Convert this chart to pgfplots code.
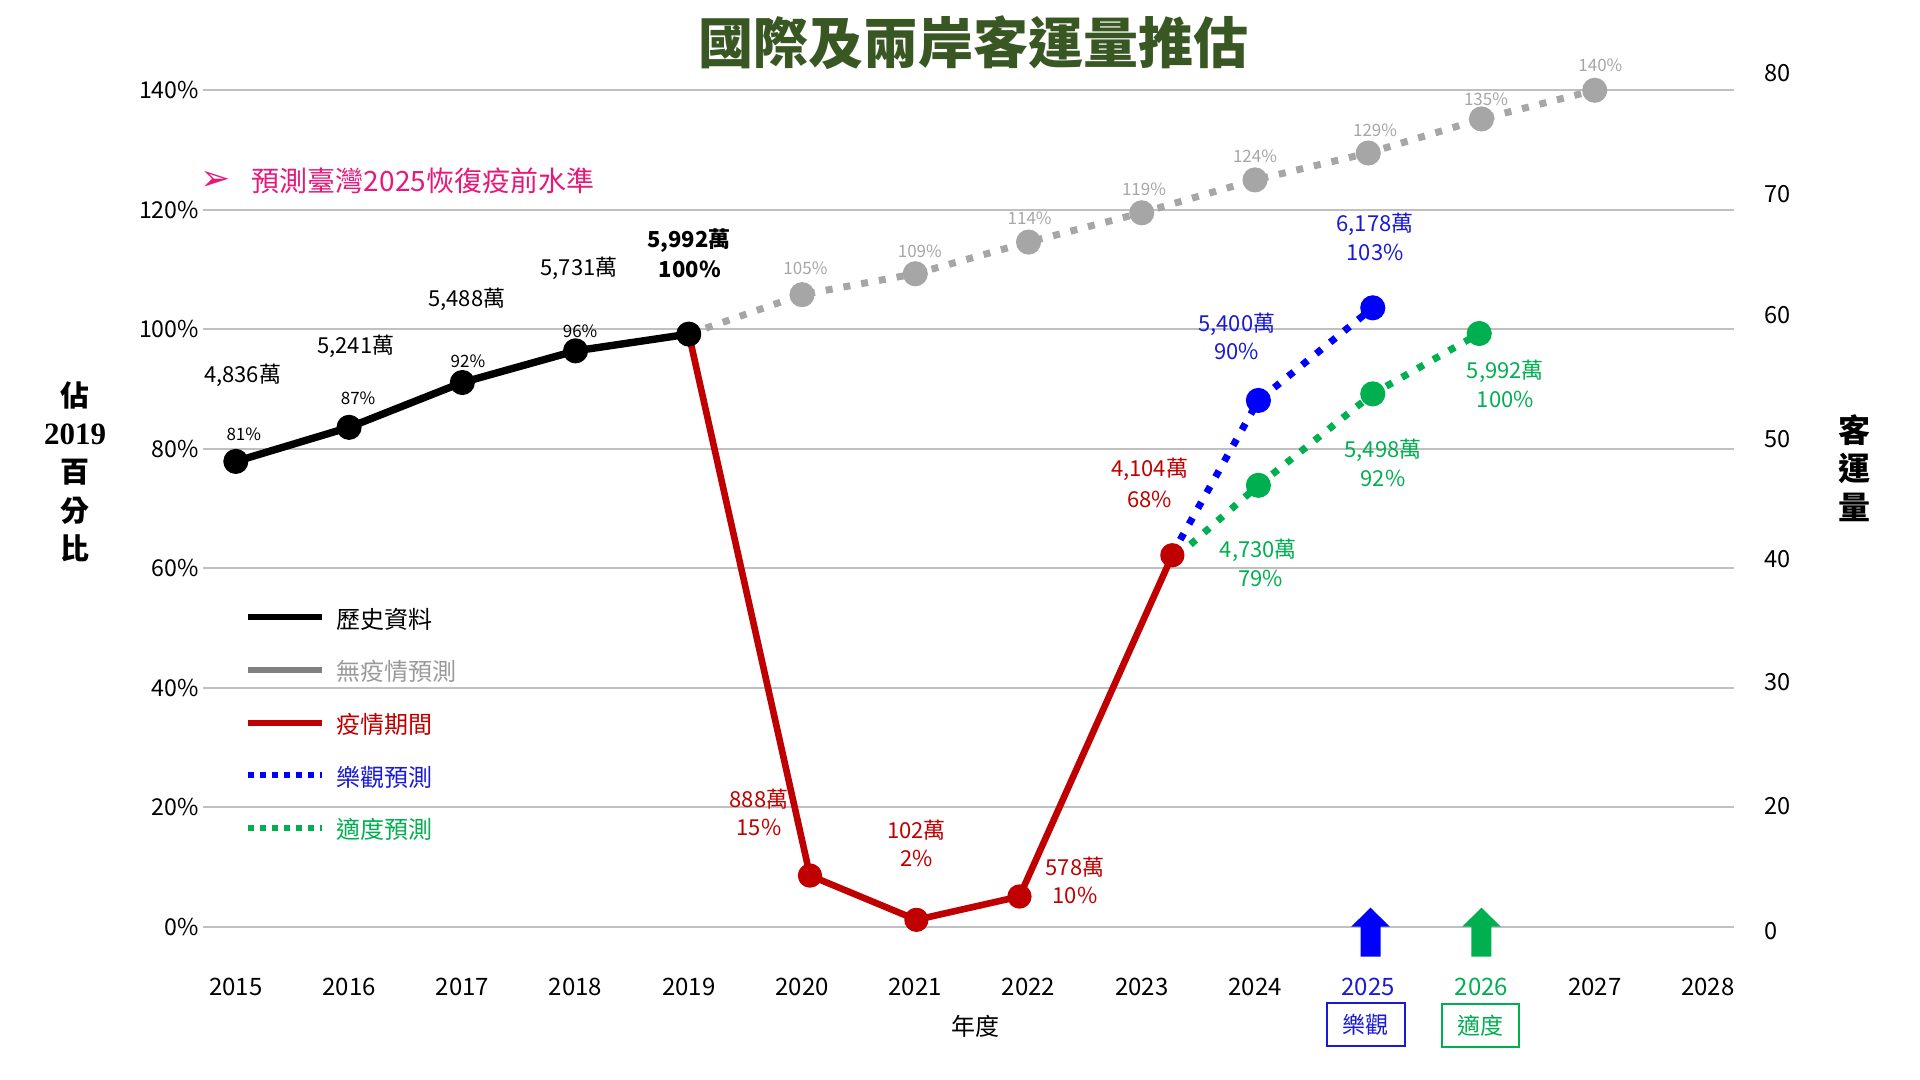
\documentclass[border=0pt]{standalone}
\usepackage{fontspec}
\setmainfont{Noto Sans CJK TC}
\newfontfamily\serifB{Liberation Serif}
\newfontfamily\dejavu{DejaVu Sans}
\usepackage{pgfplots}
\pgfplotsset{compat=1.18}
\definecolor{titlegreen}{HTML}{385723}
\definecolor{cred}{HTML}{C00000}
\definecolor{cblue}{HTML}{0000FF}
\definecolor{tblue}{HTML}{1A1AD6}
\definecolor{cgreen}{HTML}{00B050}
\definecolor{cgray}{HTML}{A6A6A6}
\definecolor{lgray}{HTML}{808080}
\definecolor{ltgray}{HTML}{9A9A9A}
\definecolor{cpink}{HTML}{E6197A}
\definecolor{gridc}{HTML}{C0C0C0}
\newcommand{\fsz}[1]{\fontsize{#1}{#1}\selectfont}
\begin{document}
\begin{tikzpicture}
\begin{axis}[
  at={(101.5pt,52.6pt)}, anchor=south west,
  scale only axis, width=765.5pt, height=457.2pt,
  xmin=2014.71, xmax=2028.23, ymin=-8, ymax=145,
  axis line style={draw=none},
  major tick length=0pt,
  ytick={0,20,40,60,80,100,120,140},
  yticklabels={0\%,20\%,40\%,60\%,80\%,100\%,120\%,140\%},
  yticklabel style={font=\fsz{11.6pt}, inner sep=0pt, anchor=east, xshift=-1.8pt},
  xtick={2015,2016,2017,2018,2019,2020,2021,2022,2023,2024,2025,2026,2027,2028},
  xticklabels={2015,2016,2017,2018,2019,2020,2021,2022,2023,2024,\textcolor{tblue}{2025},\textcolor{cgreen}{2026},2027,2028},
  xticklabel style={font=\fsz{12pt}, inner sep=0pt, anchor=north, yshift=-1.4pt},
  ymajorgrids, grid style={gridc, line width=1pt},
  clip=false,
  legend style={at={(0.0274,0.4009)}, anchor=north west, draw=none, fill=none,
    inner sep=0pt, outer sep=0pt, row sep=14.3pt, column sep=6pt,
    font=\fsz{12pt}, nodes={inner sep=0pt, text height=10pt, text depth=2pt}},
  legend cell align=left,
  legend image code/.code={\draw[#1] (0pt,1.4pt) -- (37pt,1.4pt);},
]
% no-epidemic projection
\addplot[cgray, line width=3.5pt, line cap=butt, dash pattern=on 3.5pt off 5.5pt,
  mark=*, mark size=4.5pt, mark options={solid, fill=cgray, draw=cgray},
  mark indices={2,3,4,5,6,7,8,9}, forget plot] coordinates {
  (2019,99.2) (2020,105.8) (2021,109.3) (2022,114.6) (2023,119.5)
  (2024,125.0) (2025,129.5) (2026,135.2) (2027,140.0)};
% optimistic
\addplot[cblue, line width=3.5pt, line cap=butt, dash pattern=on 3.5pt off 5.5pt,
  mark=*, mark size=4.5pt, mark options={solid, fill=cblue, draw=cblue},
  mark indices={2,3}, forget plot] coordinates {
  (2023.34,64.8) (2024.03,88.1) (2025.04,103.6)};
% moderate
\addplot[cgreen, line width=3.5pt, line cap=butt, dash pattern=on 3.5pt off 5.5pt,
  mark=*, mark size=4.5pt, mark options={solid, fill=cgreen, draw=cgreen},
  mark indices={2,3,4}, forget plot] coordinates {
  (2023.43,64.0) (2024.03,73.9) (2025.04,89.2) (2025.98,99.3)};
% epidemic
\addplot[cred, line width=3.3pt, line join=round,
  mark=*, mark size=4.4pt, mark options={solid, fill=cred, draw=cred},
  mark indices={2,3,4,5}, forget plot] coordinates {
  (2019,99.2) (2020.07,8.6) (2021.01,1.2) (2021.92,5.1) (2023.27,62.2)};
% history
\addplot[black, line width=3.7pt, line join=round,
  mark=*, mark size=4.4pt, mark options={solid, fill=black},
  forget plot] coordinates {
  (2015,77.9) (2016,83.6) (2017,91.1) (2018,96.4) (2019,99.2)};

\addlegendimage{black, line width=3pt}
\addlegendentry{歷史資料}
\addlegendimage{lgray, line width=3pt}
\addlegendentry{\textcolor{ltgray}{無疫情預測}}
\addlegendimage{cred, line width=3pt}
\addlegendentry{\textcolor{cred}{疫情期間}}
\addlegendimage{cblue, line width=3pt, dash pattern=on 3pt off 3pt}
\addlegendentry{\textcolor{tblue}{樂觀預測}}
\addlegendimage{cgreen, line width=3pt, dash pattern=on 3pt off 3pt}
\addlegendentry{\textcolor{cgreen}{適度預測}}

% title
\node[font=\bfseries\fsz{27.5pt}, text=titlegreen, inner sep=0pt] at (axis cs:2021.51,147.9) {國際及兩岸客運量推估};
% pink note
\node[font=\dejavu\fsz{18pt}, text=cpink, inner sep=0pt] at (axis cs:2014.82,124.8) {➢};
\node[font=\fsz{14pt}, text=cpink, inner sep=0pt, anchor=west] at (axis cs:2015.139,124.8) {預測臺灣2025恢復疫前水準};
% axis titles
\node[font=\bfseries\fontsize{14.5pt}{19.15pt}\selectfont, align=center, inner sep=0pt] at (axis cs:2013.58,76.2)
  {佔\\{\serifB\bfseries\fontsize{15.5pt}{19.15pt}\selectfont 2019}\\百\\分\\比};
\node[font=\bfseries\fontsize{16pt}{19.25pt}\selectfont, align=center, inner sep=0pt] at (axis cs:2029.29,76.8) {客\\運\\量};
\node[font=\fsz{12pt}, inner sep=0pt] at (axis cs:2021.53,-16.7) {年度};

% black labels
\begin{scope}[every node/.style={inner sep=0pt, font=\fsz{11pt}}]
\node at (axis cs:2015.06,92.3) {4,836萬};
\node at (axis cs:2016.06,97.2) {5,241萬};
\node at (axis cs:2017.04,105.0) {5,488萬};
\node at (axis cs:2018.03,110.2) {5,731萬};
\node[font=\bfseries\fsz{11pt}] at (axis cs:2019.00,114.8) {5,992萬};
\node[font=\bfseries\fsz{11pt}] at (axis cs:2019.01,110.0) {100\%};
\end{scope}
\begin{scope}[every node/.style={inner sep=0pt, font=\fsz{8.5pt}}]
\node at (axis cs:2015.07,82.5) {81\%};
\node at (axis cs:2016.08,88.4) {87\%};
\node at (axis cs:2017.05,94.7) {92\%};
\node at (axis cs:2018.04,99.7) {96\%};
\end{scope}
% gray labels
\begin{scope}[every node/.style={inner sep=0pt, font=\fsz{8.5pt}, text=cgray}]
\node at (axis cs:2020.03,110.2) {105\%};
\node at (axis cs:2021.04,113.0) {109\%};
\node at (axis cs:2022.01,118.5) {114\%};
\node at (axis cs:2023.02,123.4) {119\%};
\node at (axis cs:2024.00,128.9) {124\%};
\node at (axis cs:2025.06,133.3) {129\%};
\node at (axis cs:2026.04,138.5) {135\%};
\node at (axis cs:2027.05,144.2) {140\%};
\end{scope}
% red labels
\begin{scope}[every node/.style={inner sep=0pt, font=\fsz{11pt}, text=cred}]
\node at (axis cs:2019.62,21.4) {888萬};
\node at (axis cs:2019.62,16.6) {15\%};
\node at (axis cs:2021.01,16.2) {102萬};
\node at (axis cs:2021.01,11.5) {2\%};
\node at (axis cs:2022.41,10.0) {578萬};
\node at (axis cs:2022.41,5.2) {10\%};
\node at (axis cs:2023.07,76.5) {4,104萬};
\node at (axis cs:2023.07,71.6) {68\%};
\end{scope}
% blue labels
\begin{scope}[every node/.style={inner sep=0pt, font=\fsz{11pt}, text=tblue}]
\node at (axis cs:2023.84,100.9) {5,400萬};
\node at (axis cs:2023.84,96.3) {90\%};
\node at (axis cs:2025.06,117.6) {6,178萬};
\node at (axis cs:2025.06,112.9) {103\%};
\end{scope}
% green labels
\begin{scope}[every node/.style={inner sep=0pt, font=\fsz{11pt}, text=cgreen}]
\node at (axis cs:2024.03,63.0) {4,730萬};
\node at (axis cs:2024.05,58.3) {79\%};
\node at (axis cs:2025.13,79.8) {5,498萬};
\node at (axis cs:2025.13,75.1) {92\%};
\node at (axis cs:2026.21,92.9) {5,992萬};
\node at (axis cs:2026.21,88.2) {100\%};
\end{scope}
% arrows
\fill[cblue] (axis cs:2025.02,-4.97) ++(-5pt,0pt) -- ++(0pt,15pt) -- ++(-4.675pt,0pt) -- ++(9.675pt,9.5pt) -- ++(9.675pt,-9.5pt) -- ++(-4.675pt,0pt) -- ++(0pt,-15pt) -- cycle;
\fill[cgreen] (axis cs:2026.0,-4.97) ++(-5pt,0pt) -- ++(0pt,15pt) -- ++(-4.675pt,0pt) -- ++(9.675pt,9.5pt) -- ++(9.675pt,-9.5pt) -- ++(-4.675pt,0pt) -- ++(0pt,-15pt) -- cycle;
% boxes
\node[draw=tblue, line width=1pt, minimum width=38.8pt, minimum height=21.65pt, inner sep=0pt, font=\fsz{11.5pt}, text=tblue] at (axis cs:2024.98,-16.3) {樂觀};
\node[draw=cgreen, line width=1pt, minimum width=38.8pt, minimum height=21.65pt, inner sep=0pt, font=\fsz{11.5pt}, text=cgreen] at (axis cs:2025.99,-16.5) {適度};
\end{axis}
\begin{axis}[
  at={(101.5pt,52.6pt)}, anchor=south west,
  scale only axis, width=765.5pt, height=457.2pt,
  xmin=2014.71, xmax=2028.23, ymin=-8, ymax=145,
  axis y line*=right, axis x line=none,
  axis line style={draw=none},
  major tick length=0pt,
  xtick=\empty,
  ytick={-0.7,20.2,41.0,61.5,81.6,102.3,122.7,142.8},
  yticklabels={0,20,30,40,50,60,70,80},
  yticklabel style={font=\fsz{11.8pt}, inner sep=0pt, anchor=west, xshift=15pt},
]
\end{axis}
\pgfresetboundingbox
\path[use as bounding box] (0,0) rectangle (960pt,540pt);
\end{tikzpicture}
\end{document}
